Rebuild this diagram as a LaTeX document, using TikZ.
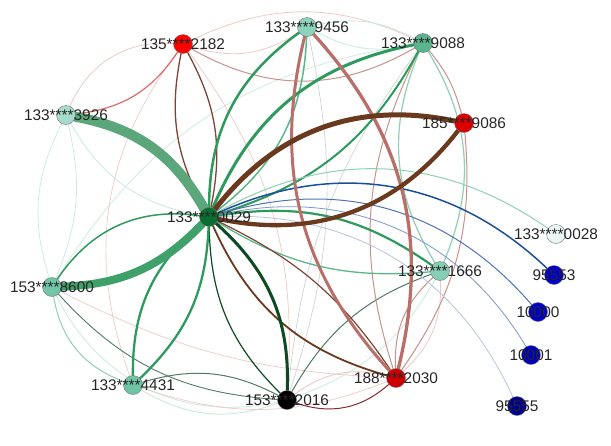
\documentclass[tikz,border=0pt]{standalone}
\usepackage{fontspec}
\setmainfont{Liberation Sans}
\usetikzlibrary{backgrounds}
% node colours
\definecolor{nred}{HTML}{FF0000}
\definecolor{nredB}{HTML}{DD0000}
\definecolor{nredC}{HTML}{CC0000}
\definecolor{nhub}{HTML}{0A6E30}
\definecolor{npaleA}{HTML}{A6DCCB}
\definecolor{npaleB}{HTML}{8CD3BB}
\definecolor{nmid}{HTML}{5AB48C}
\definecolor{ntealA}{HTML}{70C6A6}
\definecolor{ntealB}{HTML}{6EC4A4}
\definecolor{ntealC}{HTML}{86CFB6}
\definecolor{nwhite}{HTML}{EAF6F6}
\definecolor{nblue}{HTML}{0000C8}
\definecolor{nblueB}{HTML}{0000B8}
\definecolor{nnavy}{HTML}{00008C}
% edge colours
\definecolor{eband}{HTML}{5BA77B}
\definecolor{ethick}{HTML}{40A06A}
\definecolor{egreen}{HTML}{2E9A5E}
\definecolor{elgreen}{HTML}{5AB887}
\definecolor{ebrown}{HTML}{6B3A1E}
\definecolor{erust}{HTML}{7A4535}
\definecolor{epink}{HTML}{B86F69}
\definecolor{elpink}{HTML}{C8928A}
\definecolor{efpink}{HTML}{ECCAC6}
\definecolor{ered}{HTML}{E06A6A}
\definecolor{edark}{HTML}{0D4A22}
\definecolor{egray}{HTML}{4F7A66}
\definecolor{eteal}{HTML}{8FD0B5}
\definecolor{efteal}{HTML}{C8EADD}
\definecolor{eblue}{HTML}{1C4E9C}
\definecolor{eblueB}{HTML}{4E74B4}
\definecolor{eblueC}{HTML}{7D98C8}
\definecolor{eblueD}{HTML}{B4C4DE}
\definecolor{edred}{HTML}{8A2A2A}
\definecolor{egrey}{HTML}{CFD4D2}
\tikzset{
	vert/.style={circle, draw=black!55, line width=0.4pt, minimum size=19pt, inner sep=0pt},
	lbl/.style={font=\fontsize{15.4}{16}\selectfont, text=black!85, inner sep=0pt},
	link/.style={line cap=round},
}

\begin{document}
\begin{tikzpicture}[x=1pt, y=-1pt]
\useasboundingbox (0,0) rectangle (611,445);
\node (n2182) [vert, fill=nred, label={[lbl]center:135****2182}] at (183,44) {};
\node (n9456) [vert, fill=npaleB, label={[lbl]center:133****9456}] at (307,27) {};
\node (n9088) [vert, fill=nmid, label={[lbl]center:133****9088}] at (423,43) {};
\node (n9086) [vert, fill=nredB, label={[lbl]center:185****9086}] at (464,123) {};
\node (n3926) [vert, fill=npaleA, label={[lbl]center:133****3926}] at (66,115) {};
\node (n0029) [vert, fill=nhub, label={[lbl]center:133****0029}] at (209,217) {};
\node (n8600) [vert, fill=ntealA, label={[lbl]center:153****8600}] at (52,287) {};
\node (n4431) [vert, fill=ntealB, label={[lbl]center:133****4431}] at (133,385) {};
\node (n2016) [vert, fill=black, label={[lbl]center:153****2016}] at (287,400) {};
\node (n2030) [vert, fill=nredC, label={[lbl]center:188****2030}] at (396,378) {};
\node (n1666) [vert, fill=ntealC, label={[lbl]center:133****1666}] at (440,271) {};
\node (n0028) [vert, fill=nwhite, label={[lbl]center:133****0028}] at (556,234) {};
\node (n95553) [vert, fill=nblue, label={[lbl]center:95553}] at (554,275) {};
\node (n10000) [vert, fill=nblue, label={[lbl]center:10000}] at (538,312) {};
\node (n10001) [vert, fill=nblueB, label={[lbl]center:10001}] at (531,355) {};
\node (n95555) [vert, fill=nnavy, label={[lbl]center:95555}] at (517,406) {};
\begin{scope}[on background layer]
% faint links
\foreach \i/\j/\c/\w/\b in {n3926/n8600/efteal/0.7/-22, n3926/n8600/efteal/0.7/18,
	n3926/n0029/efteal/0.8/-25, n3926/n2182/efpink/0.8/35, n2182/n9088/efpink/0.8/25,
	n2182/n4431/efpink/0.7/-28, n2182/n2016/efpink/0.7/20, n8600/n9088/efteal/0.7/25,
	n8600/n4431/eteal/1/-30, n8600/n2016/egray/0.9/-22, n8600/n2016/efteal/0.8/-38,
	n8600/n2030/efpink/0.7/-12, n4431/n2016/egray/1/22, n4431/n2016/efteal/0.9/-25,
	n4431/n2030/efpink/0.7/-20, n2016/n2030/edred/1/-30, n2016/n2030/efpink/0.9/25,
	n2016/n1666/egray/1/20, n2016/n1666/efteal/0.8/-20, n9456/n2016/egrey/0.7/15,
	n9088/n2016/egrey/0.7/-15, n2030/n1666/elpink/1/25, n2030/n1666/efpink/0.8/-25,
	n9456/n9088/efteal/0.8/20, n9456/n9088/efteal/0.8/-20, n2182/n9456/efpink/0.8/-25,
	n2182/n9088/elpink/1/-30, n9088/n1666/eteal/1.2/27, n9088/n1666/eteal/1.2/-27,
	n9088/n9086/elpink/1/12, n9088/n2030/elpink/1/-22, n9086/n2030/elpink/1/20}
	\draw [link, draw=\c, line width=\w pt] (\i) to[bend left=\b] (\j);
% links of the hub
\foreach \i/\j/\c/\w/\b in {n0029/n2182/erust/1.3/20, n0029/n2182/erust/1.3/-20,
	n0029/n9456/egreen/2.5/27, n0029/n9456/elgreen/1.5/-25,
	n0029/n9088/egreen/3/28, n0029/n9088/egreen/2/-22,
	n0029/n0028/eteal/1/32, n0029/n95553/eblue/1.5/34, n0029/n10000/eblueB/1/33,
	n0029/n10001/eblueC/0.8/36, n0029/n95555/eblueD/0.8/34,
	n0029/n1666/egreen/2.2/22, n0029/n1666/elgreen/1.3/-18,
	n0029/n2030/ebrown/1.8/-25, n0029/n2030/erust/1.2/15,
	n0029/n2016/edark/3/25, n0029/n2016/edark/1.2/-22,
	n0029/n4431/egreen/2.3/22, n0029/n4431/egreen/2.3/-25,
	n8600/n0029/egreen/1.5/32, n8600/n0029/ethick/8/-22,
	n9456/n2030/epink/3.3/28, n9456/n2030/epink/3/-28,
	n3926/n2182/ered/1.2/-25,
	n0029/n9086/ebrown/5/32, n0029/n9086/ebrown/4.3/-32,
	n3926/n0029/eband/10/25}
	\draw [link, draw=\c, line width=\w pt] (\i) to[bend left=\b] (\j);
\end{scope}
\end{tikzpicture}
\end{document}
